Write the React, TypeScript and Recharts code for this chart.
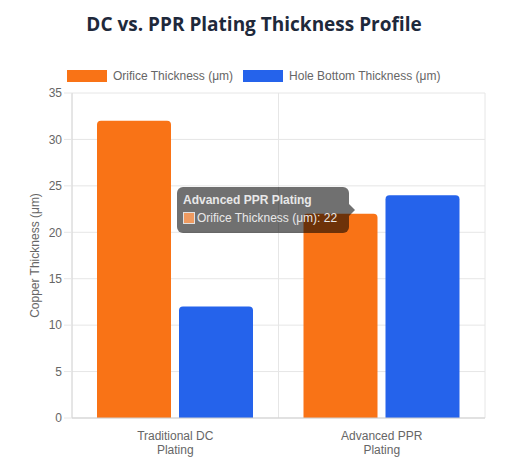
import React from "react";
import {
  BarChart,
  Bar,
  XAxis,
  YAxis,
  CartesianGrid,
  Tooltip,
} from "recharts";

const categories = ["Traditional DC Plating", "Advanced PPR Plating"];
const categoryLines = [
  ["Traditional DC", "Plating"],
  ["Advanced PPR", "Plating"],
];
const orificeThickness = [32, 22];
const holeBottomThickness = [12, 24];
const seriesNames = ["Orifice Thickness (μm)", "Hole Bottom Thickness (μm)"];
const seriesColors = ["#f97316", "#2563eb"];
const yTicks = [0, 5, 10, 15, 20, 25, 30, 35];
const boundaryTicks = [0, 1, 2];

const data = categories.map((c, i) => ({
  name: c,
  idx: i,
  orifice: orificeThickness[i],
  bottom: holeBottomThickness[i],
}));

const FONT = "'Liberation Sans', Arial, Helvetica, sans-serif";

const XTick = (props: any) => {
  const { x, y, payload } = props;
  const lines = categoryLines[payload.index] || [String(payload.value)];
  return (
    <g>
      {lines.map((l: string, i: number) => (
        <text
          key={i}
          x={x}
          y={y + 22 + i * 14}
          textAnchor="middle"
          fill="#666"
          fontSize={12}
          fontFamily={FONT}
        >
          {l}
        </text>
      ))}
    </g>
  );
};

const TipContent = (props: any) => {
  const { payload, label } = props;
  if (!payload || !payload.length) return null;
  const p = payload[0];
  return (
    <div
      style={{
        position: "relative",
        background: "rgba(0,0,0,0.56)",
        borderRadius: 6,
        padding: "6px 6px 7px 6px",
        width: 172,
        height: 46,
        fontFamily: FONT,
        fontSize: 12,
        color: "#e8e8e8",
        lineHeight: "14px",
        boxSizing: "border-box",
        whiteSpace: "nowrap",
      }}
    >
      <div style={{ fontWeight: "bold", marginBottom: 4 }}>{label}</div>
      <div style={{ display: "flex", alignItems: "center" }}>
        <span
          style={{
            display: "inline-block",
            width: 10,
            height: 10,
            background: "#ee9a60",
            border: "1px solid #e0e0e0",
            marginRight: 2,
          }}
        />
        <span>
          {p.name}: {p.value}
        </span>
      </div>
      <div
        style={{
          position: "absolute",
          right: -6,
          top: 17,
          width: 0,
          height: 0,
          borderTop: "6px solid transparent",
          borderBottom: "6px solid transparent",
          borderLeft: "6px solid rgba(0,0,0,0.56)",
        }}
      />
    </div>
  );
};

export default function App() {
  return (
    <div
      style={{
        position: "absolute",
        left: 0,
        top: 0,
        width: 510,
        height: 467,
        background: "#fff",
      }}
    >
      <div
        style={{
          position: "absolute",
          left: 0,
          top: 10,
          width: 508,
          textAlign: "center",
          fontFamily: "'Open Sans', sans-serif",
          fontWeight: 700,
          fontSize: 19,
          color: "#1e293b",
          lineHeight: "28px",
        }}
      >
        DC vs. PPR Plating Thickness Profile
      </div>
      <div
        style={{
          position: "absolute",
          left: 67,
          top: 69,
          display: "flex",
          alignItems: "center",
          fontFamily: FONT,
          fontSize: 12,
          color: "#666",
        }}
      >
        {seriesNames.map((n, i) => (
          <div
            key={n}
            style={{ display: "flex", alignItems: "center", marginRight: 10 }}
          >
            <span
              style={{
                display: "inline-block",
                width: 40,
                height: 12,
                background: seriesColors[i],
                marginRight: 6,
              }}
            />
            <span>{n}</span>
          </div>
        ))}
      </div>
      <BarChart
        width={510}
        height={467}
        data={data}
        margin={{ top: 93, right: 25, left: 0, bottom: 0 }}
        barCategoryGap={25}
        barGap={8}
        style={{ position: "absolute", left: 0, top: 0 }}
      >
        <CartesianGrid
          stroke="#e6e6e6"
          verticalCoordinatesGenerator={({ offset }: any) => [
            offset.left,
            offset.left + offset.width / 2,
            offset.left + offset.width,
          ]}
        />
        <XAxis
          xAxisId="bound"
          type="number"
          domain={[0, 2]}
          ticks={boundaryTicks}
          height={0}
          tick={false}
          tickSize={8}
          tickLine={{ stroke: "#e6e6e6" }}
          axisLine={false}
        />
        <XAxis
          dataKey="name"
          height={49}
          tick={<XTick />}
          tickLine={false}
          tickSize={0}
          tickMargin={0}
          axisLine={{ stroke: "#cfcfcf" }}
          interval={0}
        />
        <YAxis
          width={72}
          domain={[0, 35]}
          ticks={yTicks}
          tickSize={8}
          tickMargin={2}
          tickLine={{ stroke: "#e6e6e6" }}
          axisLine={{ stroke: "#d8d8d8" }}
          tick={{ fill: "#666", fontSize: 12, fontFamily: FONT }}
          label={{
            value: "Copper Thickness (μm)",
            angle: -90,
            position: "insideLeft",
            offset: 35,
            style: {
              textAnchor: "middle",
              fill: "#666",
              fontSize: 12,
              fontFamily: FONT,
            },
          }}
        />
        <Tooltip
          active={true}
          defaultIndex={1}
          cursor={false}
          position={{ x: 177, y: 187 }}
          content={<TipContent />}
          isAnimationActive={false}
          wrapperStyle={{ outline: "none" }}
        />
        <Bar
          dataKey="orifice"
          name={seriesNames[0]}
          fill={seriesColors[0]}
          radius={[4, 4, 0, 0]}
          isAnimationActive={false}
          activeBar={false}
        />
        <Bar
          dataKey="bottom"
          name={seriesNames[1]}
          fill={seriesColors[1]}
          radius={[4, 4, 0, 0]}
          isAnimationActive={false}
          activeBar={false}
        />
      </BarChart>
    </div>
  );
}
